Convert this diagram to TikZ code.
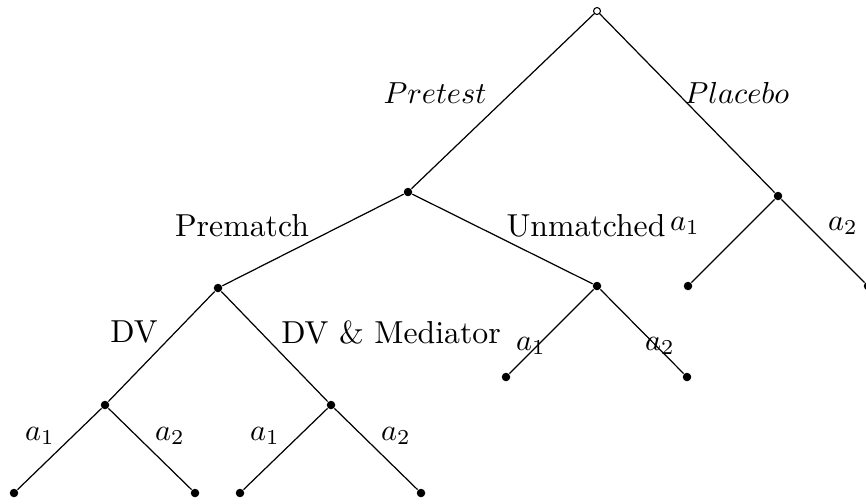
\documentclass[tikz,border=0pt]{standalone}
\begin{document}
\begin{tikzpicture}[x=0.3288pt,y=-0.3288pt,
  dot/.style={circle,fill=black,inner sep=0pt,minimum size=2.8pt},
  rootdot/.style={circle,draw=black,fill=white,line width=0.35pt,inner sep=0pt,minimum size=2.3pt},
  branch/.style={line width=0.4pt},
  lbl/.style={inner sep=0pt,font=\fontsize{10.45}{12.5}\selectfont}]
\useasboundingbox (0,0) rectangle (866,503);
% decision nodes
\node[rootdot] (root) at (597,11) {};
\node[dot] (pre) at (408,192) {};
\node[dot] (plc) at (778,196) {};
\node[dot] (pm) at (218,288) {};
\node[dot] (um) at (597,286) {};
\node[dot] (dv) at (105,405) {};
\node[dot] (dvm) at (331,405) {};
% leaves
\node[dot] (plc1) at (688,286) {};
\node[dot] (plc2) at (868,286) {};
\node[dot] (um1) at (506,377) {};
\node[dot] (um2) at (687,377) {};
\node[dot] (dv1) at (14,493) {};
\node[dot] (dv2) at (195,493) {};
\node[dot] (dvm1) at (240,493) {};
\node[dot] (dvm2) at (421,493) {};
% branches
\draw[branch] (root) -- (pre);
\draw[branch] (root) -- (plc);
\draw[branch] (pre) -- (pm);
\draw[branch] (pre) -- (um);
\draw[branch] (plc) -- (plc1);
\draw[branch] (plc) -- (plc2);
\draw[branch] (um) -- (um1);
\draw[branch] (um) -- (um2);
\draw[branch] (pm) -- (dv);
\draw[branch] (pm) -- (dvm);
\draw[branch] (dv) -- (dv1);
\draw[branch] (dv) -- (dv2);
\draw[branch] (dvm) -- (dvm1);
\draw[branch] (dvm) -- (dvm2);
% branch labels
\node[lbl] (lpre) at (435,93) {$Pretest$};
\node[lbl] (lplc) at (737,93) {$Placebo$};
\node[lbl] (lpm) at (242,226) {Prematch};
\node[lbl] (lum) at (586,226) {Unmatched};
\node[lbl] (lp1) at (685,226) {$a_1$};
\node[lbl] (lp2) at (843,226) {$a_2$};
\node[lbl] (ldv) at (134,332) {DV};
\node[lbl] (ldvm) at (391,332) {DV \& Mediator};
\node[lbl] (lu1) at (531,346) {$a_1$};
\node[lbl] (lu2) at (660,346) {$a_2$};
\node[lbl] (ld1) at (40,436) {$a_1$};
\node[lbl] (ld2) at (170,436) {$a_2$};
\node[lbl] (lm1) at (265,436) {$a_1$};
\node[lbl] (lm2) at (396,436) {$a_2$};
\end{tikzpicture}
\end{document}
